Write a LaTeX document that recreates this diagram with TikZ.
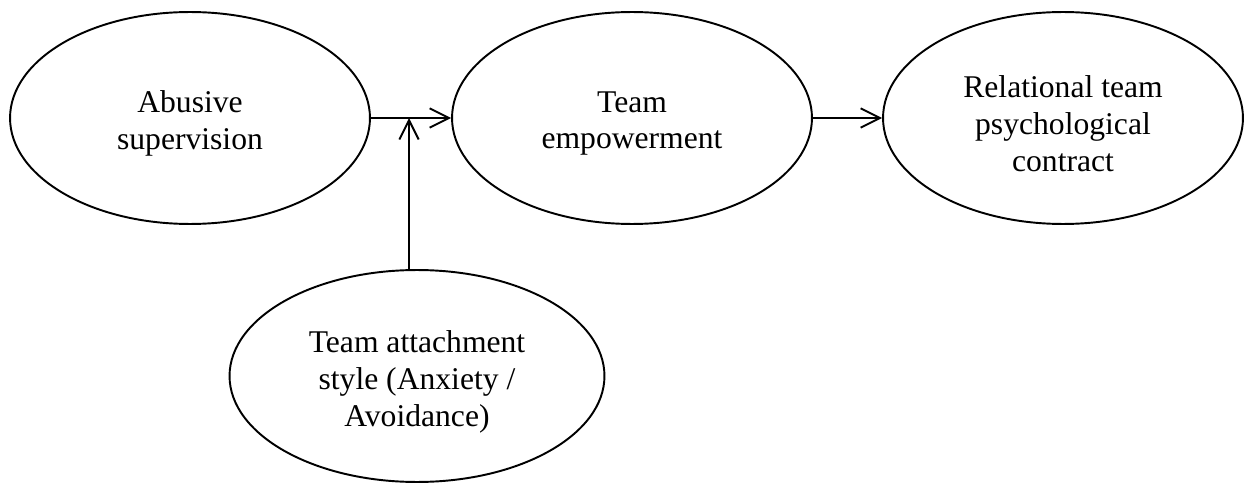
\documentclass[tikz,border=0pt]{standalone}
\usepackage{fontspec}
\setmainfont{Liberation Serif}
\usetikzlibrary{shapes.geometric,arrows.meta}
\begin{document}
\begin{tikzpicture}[x=0.02cm,y=-0.02cm,>={Straight Barb[length=11pt,width=11pt]},line width=1.1pt,
  var/.style={draw,ellipse,minimum width=7.2cm,minimum height=4.24cm,inner sep=0pt},
  txt/.style={align=center,font=\fontsize{18}{21}\selectfont,yshift=-0.11cm}]
\useasboundingbox (0,0) rectangle (1245,483);
\node[var,label={[txt]center:Abusive\\supervision}] (abuse) at (190,118) {};
\node[var,label={[txt]center:Team\\empowerment}] (empower) at (632,118) {};
\node[var,label={[txt]center:Relational team\\psychological\\contract}] (contract) at (1063,118) {};
\node[var,minimum width=7.5cm,label={[txt]center:Team attachment\\style (Anxiety /\\Avoidance)}] (attach) at (417,376) {};
\coordinate (mod) at (409,118);
\draw[->] (abuse) -- (empower);
\draw[->] (empower) -- (contract);
\draw[->] (attach.north -| mod) -- (mod);
\end{tikzpicture}
\end{document}
